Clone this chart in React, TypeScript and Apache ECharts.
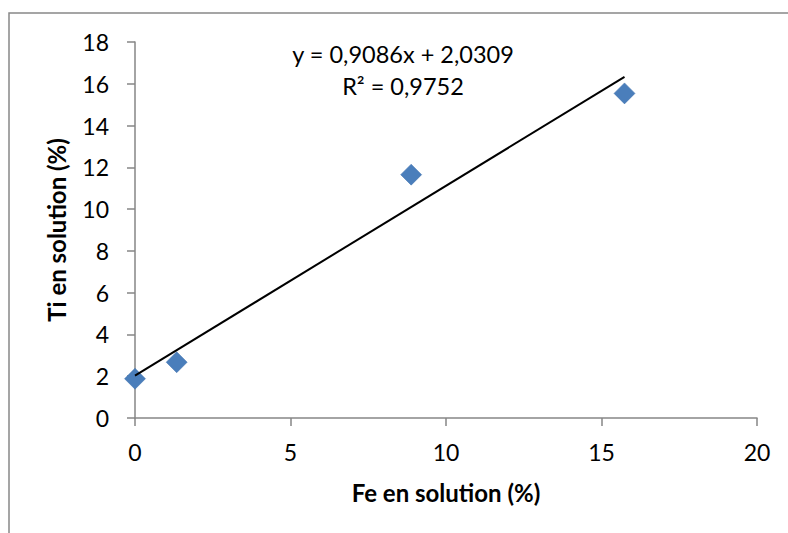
import React, { useEffect, useRef } from "react";
import * as echarts from "echarts";

const feValues = [0, 1.34, 8.88, 15.74];
const tiValues = [1.88, 2.67, 11.65, 15.54];
const slope = 0.9086;
const intercept = 2.0309;
const equationText = "y = 0,9086x + 2,0309";
const r2Text = "R² = 0,9752";
const xTitle = "Fe en solution (%)";
const yTitle = "Ti en solution (%)";

export default function App() {
  const ref = useRef<HTMLDivElement>(null);
  useEffect(() => {
    if (!ref.current) return;
    const chart = echarts.init(ref.current, null, { renderer: "svg" });
    const xMin = Math.min(...feValues);
    const xMax = Math.max(...feValues);
    const trend = [
      [xMin, slope * xMin + intercept],
      [xMax, slope * xMax + intercept],
    ];
    const font = "Lato, 'Open Sans', sans-serif";
    chart.setOption({
      animation: false,
      backgroundColor: "#ffffff",
      grid: { left: 135, right: 31, top: 42, bottom: 115, containLabel: false },
      xAxis: {
        type: "value",
        min: 0,
        max: 20,
        interval: 5,
        name: xTitle,
        nameLocation: "middle",
        nameGap: 62,
        nameTextStyle: { fontFamily: font, fontSize: 24, fontWeight: "bold", color: "#000" },
        axisLine: { onZero: false, lineStyle: { color: "#868686", width: 1.5 } },
        axisTick: { show: true, length: 8, inside: false, lineStyle: { color: "#868686", width: 1.5 } },
        axisLabel: { fontFamily: font, fontSize: 23, color: "#000", margin: 22 },
        splitLine: { show: false },
      },
      yAxis: {
        type: "value",
        min: 0,
        max: 18,
        interval: 2,
        name: yTitle,
        nameLocation: "middle",
        nameGap: 67,
        nameTextStyle: { fontFamily: font, fontSize: 24, fontWeight: "bold", color: "#000" },
        axisLine: { show: true, lineStyle: { color: "#868686", width: 1.5 } },
        axisTick: { show: true, length: 8, inside: false, lineStyle: { color: "#868686", width: 1.5 } },
        axisLabel: { fontFamily: font, fontSize: 23, color: "#000", margin: 26 },
        splitLine: { show: false },
      },
      series: [
        {
          type: "scatter",
          data: feValues.map((x, i) => [x, tiValues[i]]),
          symbol: "diamond",
          symbolSize: 21,
          itemStyle: { color: "#4a7ebb", borderColor: "#3f70ad", borderWidth: 0.5, opacity: 1 },
          z: 2,
        },
        {
          type: "line",
          data: trend,
          showSymbol: false,
          symbol: "none",
          lineStyle: { color: "#000", width: 2 },
          z: 3,
        },
      ],
      graphic: [
        {
          type: "rect",
          shape: { x: 9, y: 13, width: 800, height: 540 },
          style: { fill: "none", stroke: "#888888", lineWidth: 1.5 },
          silent: true,
        },
        {
          type: "text",
          x: 403,
          y: 54,
          style: {
            text: equationText,
            fontFamily: font,
            fontSize: 23.5,
            fill: "#000",
            textAlign: "center",
            textVerticalAlign: "middle",
          },
        },
        {
          type: "text",
          x: 403,
          y: 86,
          style: {
            text: r2Text,
            fontFamily: font,
            fontSize: 23.5,
            fill: "#000",
            textAlign: "center",
            textVerticalAlign: "middle",
          },
        },
      ],
    });
    return () => chart.dispose();
  }, []);
  return (
    <div
      ref={ref}
      style={{ position: "absolute", left: 0, top: 0, width: 788, height: 533 }}
    />
  );
}
